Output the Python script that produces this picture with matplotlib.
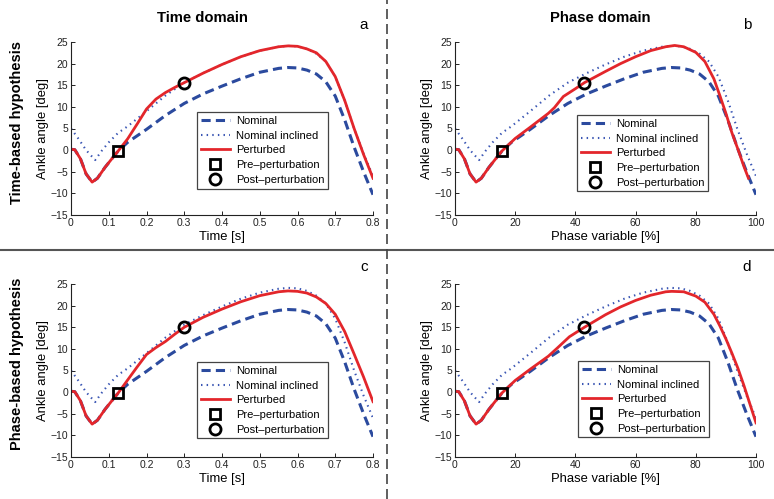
import matplotlib
matplotlib.use("Agg")
import matplotlib.pyplot as plt
from matplotlib.lines import Line2D

plt.rcParams['font.family'] = ['Liberation Sans', 'DejaVu Sans']

# --- data (ankle angle in deg) ---
t_nom = [0, 0.01, 0.025, 0.04, 0.056, 0.07, 0.09, 0.11, 0.125, 0.15, 0.2, 0.25, 0.3,
         0.35, 0.4, 0.45, 0.5, 0.55, 0.575, 0.6, 0.625, 0.65, 0.675, 0.7, 0.725,
         0.75, 0.775, 0.8]
nominal = [0.2, 0.1, -2.0, -5.5, -7.4, -6.5, -4.0, -1.8, -0.2, 1.8, 4.8, 8.0, 10.8,
           13.0, 14.8, 16.5, 18.0, 18.9, 19.1, 19.0, 18.5, 17.6, 15.8, 12.5, 7.0,
           0.7, -5.0, -10.3]

t_inc = [0, 0.02, 0.04, 0.064, 0.08, 0.1, 0.125, 0.15, 0.2, 0.25, 0.3, 0.35, 0.4,
         0.45, 0.5, 0.55, 0.575, 0.6, 0.625, 0.65, 0.675, 0.7, 0.725, 0.75, 0.775, 0.8]
inclined = [5.0, 2.6, 0.0, -2.3, -0.3, 1.8, 4.0, 5.5, 9.0, 12.6, 15.6, 17.8, 19.8,
            21.6, 23.0, 23.9, 24.1, 24.0, 23.4, 22.3, 20.5, 17.0, 11.5, 5.0, -0.8, -6.0]

# perturbed, time-based hypothesis (panel a)
t_pert = [0, 0.01, 0.025, 0.04, 0.056, 0.07, 0.09, 0.11, 0.125, 0.15, 0.175, 0.2,
          0.225, 0.25, 0.275, 0.3, 0.35, 0.4, 0.45, 0.5, 0.55, 0.575, 0.6, 0.625,
          0.65, 0.675, 0.7, 0.725, 0.75, 0.775, 0.8]
pert_a = [0.2, 0.1, -2.0, -5.5, -7.4, -6.5, -4.0, -1.8, -0.2, 2.6, 6.0, 9.5,
          11.8, 13.3, 14.5, 15.6, 17.8, 19.8, 21.6, 23.0, 23.9, 24.1, 24.0, 23.4,
          22.5, 20.5, 17.0, 11.5, 5.0, -1.0, -6.5]
# perturbed, phase-based hypothesis (panel c)
pert_c = [0.2, 0.1, -2.0, -5.5, -7.4, -6.5, -4.0, -1.8, -0.2, 2.8, 5.8, 8.7,
          10.3, 11.7, 13.4, 15.0, 17.3, 19.2, 20.9, 22.3, 23.2, 23.4, 23.3, 22.9,
          22.0, 20.5, 18.0, 14.0, 8.8, 3.5, -2.2]

# perturbed in phase domain (panels b, d)
p_pert_b = [0, 1.25, 3.1, 5.0, 7.0, 8.75, 11.25, 13.75, 15.6, 20, 25, 31, 33, 36,
            40, 43, 50, 55, 60, 65, 70, 73, 76, 80, 83, 86, 88, 90, 92, 94, 96, 97.5]
pert_b = [0.2, 0.1, -2.0, -5.5, -7.4, -6.5, -4.0, -1.8, -0.2, 2.7, 5.3, 8.5, 9.8, 12.4,
          14.2, 15.6, 18.2, 20.0, 21.6, 23.0, 23.9, 24.2, 23.9, 22.6, 20.5, 16.5,
          12.6, 8.5, 4.0, 0.2, -3.8, -6.5]
p_pert_d = [0, 1.25, 3.1, 5.0, 7.0, 8.75, 11.25, 13.75, 15.6, 20, 25, 31, 34, 38,
            43, 50, 55, 60, 65, 70, 72, 76, 80, 83, 86, 88, 90, 92, 94, 96, 98, 100]
pert_d = [0.2, 0.1, -2.0, -5.5, -7.4, -6.5, -4.0, -1.8, -0.2, 2.7, 5.3, 8.3, 10.2,
          12.8, 15.0, 17.9, 19.7, 21.2, 22.4, 23.2, 23.3, 23.2, 22.2, 20.8, 18.0,
          15.3, 12.3, 9.0, 5.5, 1.5, -2.8, -7.1]

pre_t, pre_p, pre_y = 0.125, 15.6, -0.2
post_t, post_p = 0.3, 43.0
post_y = {'a': 15.6, 'b': 15.6, 'c': 15.0, 'd': 15.0}

stride = 0.8  # s, for phase conversion
p_nom = [v / stride * 100 for v in t_nom]
p_inc = [v / stride * 100 for v in t_inc]

BLUE = '#2b4a9e'
BLUE_DOT = '#3a56b4'
RED = '#e3262b'

W, H = 774, 499
fig = plt.figure(figsize=(W / 100, H / 100), dpi=100)


def make_axes(x0, y_top, x1, y_bot):
    return fig.add_axes([x0 / W, 1 - y_bot / H, (x1 - x0) / W, (y_bot - y_top) / H])


def draw_panel(ax, xn, xi, xp, yp, xpre, xpost, ypost, phase, leg_anchor, letter):
    ax.plot(xn, nominal, color=BLUE, lw=2.2, dashes=(3.0, 1.7), label='Nominal')
    ax.plot(xi, inclined, color=BLUE_DOT, lw=1.5, dashes=(0.7, 2.0), label='Nominal inclined')
    ax.plot(xp, yp, color=RED, lw=2.0, label='Perturbed')
    ax.plot([xpre], [pre_y], 's', ms=7, mfc='none', mec='k', mew=2.0, label='Pre\u2013perturbation')
    ax.plot([xpost], [ypost], 'o', ms=8, mfc='none', mec='k', mew=2.0, label='Post\u2013perturbation')

    if phase:
        ax.set_xlim(0, 100)
        ax.set_xticks([0, 20, 40, 60, 80, 100])
        ax.set_xlabel('Phase variable [%]', fontsize=9.4, labelpad=2)
    else:
        ax.set_xlim(0, 0.8)
        ax.set_xticks([0, 0.1, 0.2, 0.3, 0.4, 0.5, 0.6, 0.7, 0.8])
        ax.set_xticklabels(['0', '0.1', '0.2', '0.3', '0.4', '0.5', '0.6', '0.7', '0.8'])
        ax.set_xlabel('Time [s]', fontsize=9.4, labelpad=2)
    ax.set_ylim(-15, 25)
    ax.set_yticks(range(-15, 26, 5))
    ax.set_ylabel('Ankle angle [deg]', fontsize=9.4, labelpad=1)

    for s in ['top', 'right']:
        ax.spines[s].set_visible(False)
    for s in ['left', 'bottom']:
        ax.spines[s].set_linewidth(0.8)
        ax.spines[s].set_color('#222222')
    ax.tick_params(direction='in', length=3, width=0.7, labelsize=7.5, pad=2, colors='#222222')

    leg = ax.legend(loc='upper left', bbox_to_anchor=leg_anchor, borderaxespad=0,
                    fontsize=8, fancybox=False, framealpha=1, edgecolor='#444444',
                    handlelength=2.6, handletextpad=0.55, labelspacing=0.42,
                    borderpad=0.35)
    leg.get_frame().set_linewidth(0.9)
    ax.text(0.97, 1.1, letter, transform=ax.transAxes, fontsize=11, ha='center', va='center')


ax_a = make_axes(71, 42, 373, 215)
ax_b = make_axes(455, 42, 756, 215)
ax_c = make_axes(71, 284, 373, 457)
ax_d = make_axes(455, 284, 756, 457)

draw_panel(ax_a, t_nom, t_inc, t_pert, pert_a, pre_t, post_t, post_y['a'], False, (0.417, 0.595), 'a')
draw_panel(ax_b, p_nom, p_inc, p_pert_b, pert_b, pre_p, post_p, post_y['b'], True, (0.405, 0.578), 'b')
draw_panel(ax_c, t_nom, t_inc, t_pert, pert_c, pre_t, post_t, post_y['c'], False, (0.417, 0.549), 'c')
draw_panel(ax_d, p_nom, p_inc, p_pert_d, pert_d, pre_p, post_p, post_y['d'], True, (0.409, 0.555), 'd')

# column / row headers
fig.text(202 / W, 1 - 18 / H, 'Time domain', fontsize=10.7, fontweight='bold', ha='center', va='center')
fig.text(600 / W, 1 - 18 / H, 'Phase domain', fontsize=10.7, fontweight='bold', ha='center', va='center')
fig.text(17 / W, 1 - 123 / H, 'Time-based hypothesis', fontsize=10.5, fontweight='bold',
         rotation=90, ha='center', va='center')
fig.text(17 / W, 1 - 364 / H, 'Phase-based hypothesis', fontsize=10.5, fontweight='bold',
         rotation=90, ha='center', va='center')

# separators
fig.add_artist(Line2D([0, 1], [1 - 250 / H, 1 - 250 / H], transform=fig.transFigure,
                      color='#555555', lw=1.5))
fig.add_artist(Line2D([387 / W, 387 / W], [0, 1], transform=fig.transFigure,
                      color='#444444', lw=1.2, dashes=(6, 3)))

fig.savefig('out.png', dpi=100)
